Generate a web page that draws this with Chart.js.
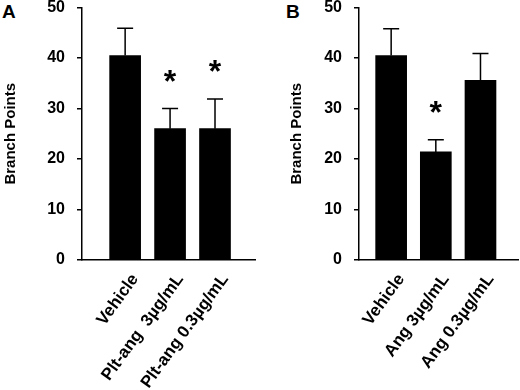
<html>
<head>
  <script src="https://cdn.jsdelivr.net/npm/chart.js"></script>
  <title>Branch Points</title>
  <style>
    body { margin: 0; background: #fff; }
    .panel { position: absolute; top: 0; width: 260px; height: 390px; }
    .letter { position: absolute; top: 2px; font: bold 19px "Liberation Sans", Arial, sans-serif; line-height: 19px; color: #000; }
  </style>
</head>
<body>
  <div class="letter" style="left:2px">A</div>
  <div class="letter" style="left:286px">B</div>
  <div class="panel" style="left:0"><canvas id="chartA" width="260" height="390"></canvas></div>
  <div class="panel" style="left:260px"><canvas id="chartB" width="260" height="390"></canvas></div>

  <script>
    // panel A
    const catsA = ["Vehicle", "Plt-ang  3µg/mL", "Plt-ang 0.3µg/mL"];
    const meansA = [40.5, 26.0, 26.0];
    const semA = [5.4, 4.0, 5.9];
    const sigA = [false, true, true];

    // panel B
    const catsB = ["Vehicle", "Ang 3µg/mL", "Ang 0.3µg/mL"];
    const meansB = [40.5, 21.4, 35.6];
    const semB = [5.3, 2.4, 5.3];
    const sigB = [false, true, false];

    const yTicks = [0, 10, 20, 30, 40, 50];
    const yTitle = "Branch Points";

    const FONT = "'Liberation Sans', Arial, sans-serif";

    // error bars (upper half only) + asterisks
    const errorBarPlugin = {
      id: "errorBars",
      afterDatasetsDraw: (chart, args, opts) => {
        const { ctx } = chart;
        const yScale = chart.scales.y;
        const meta = chart.getDatasetMeta(0);
        ctx.save();
        ctx.strokeStyle = "#000";
        ctx.fillStyle = "#000";
        ctx.lineWidth = 1.5;
        meta.data.forEach((bar, i) => {
          const top = yScale.getPixelForValue(opts.means[i] + opts.errs[i]);
          ctx.beginPath();
          ctx.moveTo(bar.x, bar.y);
          ctx.lineTo(bar.x, top);
          ctx.moveTo(bar.x - 8, top);
          ctx.lineTo(bar.x + 8, top);
          ctx.stroke();
          if (opts.sig[i]) {
            ctx.font = "bold 32px " + FONT;
            ctx.textAlign = "center";
            ctx.textBaseline = "alphabetic";
            ctx.fillText("*", bar.x, top - 17);
          }
        });
        ctx.restore();
      },
    };

    function makeChart(id, cats, means, errs, sig, xMin, xMax, padLeft, axisWidth, padRight) {
      return new Chart(document.getElementById(id).getContext("2d"), {
        type: "bar",
        data: {
          datasets: [
            {
              data: means.map((v, i) => ({ x: i + 1, y: v })),
              backgroundColor: "#000",
              borderWidth: 0,
              barThickness: 31,
            },
          ],
        },
        options: {
          responsive: false,
          animation: false,
          layout: { padding: { left: padLeft, right: padRight, top: 7.5, bottom: 0 } },
          scales: {
            x: {
              type: "linear",
              offset: false,
              min: xMin,
              max: xMax,
              grid: { display: false, drawTicks: false, offset: false },
              border: { display: true, color: "#000", width: 1.5 },
              afterBuildTicks: (scale) => {
                scale.ticks = cats.map((c, i) => ({ value: i + 1 }));
              },
              afterFit: (scale) => {
                scale.height = 130;
                scale.paddingLeft = 0;
                scale.paddingRight = 0;
              },
              ticks: {
                autoSkip: false,
                minRotation: 54,
                maxRotation: 54,
                padding: 10,
                labelOffset: 10,
                color: "#000",
                font: { family: FONT, size: 17, weight: "bold" },
                callback: (v) => cats[v - 1],
              },
            },
            y: {
              min: 0,
              max: 50,
              afterBuildTicks: (scale) => {
                scale.ticks = yTicks.map((v) => ({ value: v }));
              },
              afterFit: (scale) => {
                scale.width = axisWidth;
                scale.paddingTop = 0;
                scale.paddingBottom = 0;
              },
              grid: { drawOnChartArea: false, color: "#000", lineWidth: 1.5, tickLength: 5 },
              border: { color: "#000", width: 1.5 },
              ticks: {
                padding: 12,
                color: "#000",
                font: { family: FONT, size: 16, weight: "bold" },
              },
              title: {
                display: true,
                text: yTitle,
                color: "#000",
                padding: { top: 2, bottom: 0 },
                font: { family: FONT, size: 15, weight: "bold" },
              },
            },
          },
          plugins: {
            legend: { display: false },
            tooltip: { enabled: false },
            errorBars: { means: means, errs: errs, sig: sig },
          },
        },
        plugins: [errorBarPlugin],
      });
    }

    makeChart("chartA", catsA, meansA, semA, sigA, 0.04, 3.89, 0, 82, 5);
    makeChart("chartB", catsB, meansB, semB, sigB, 0.28, 3.84, 26, 73, 2);
  </script>
</body>
</html>
